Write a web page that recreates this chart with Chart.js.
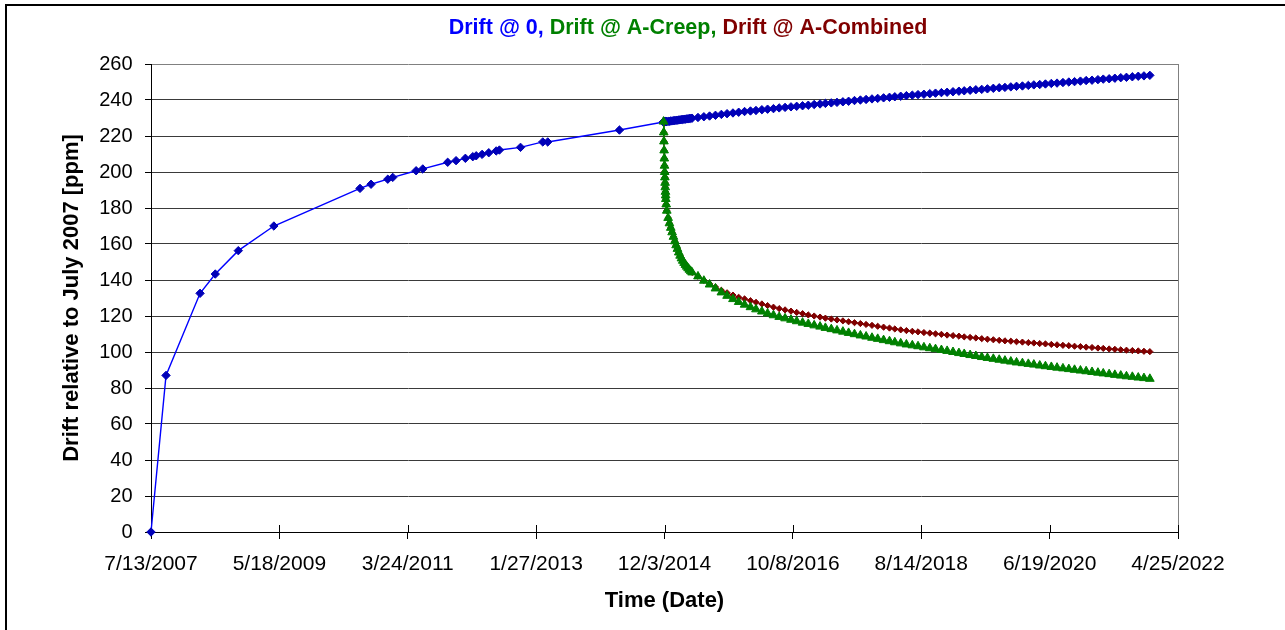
<!DOCTYPE html>
<html><head><meta charset="utf-8">
<script src="https://cdn.jsdelivr.net/npm/chart.js@4.4.0/dist/chart.umd.min.js"></script>
<style>html,body{margin:0;padding:0;background:#fff;overflow:hidden}canvas{display:block}</style>
</head><body>
<canvas id="c" width="1285" height="630"></canvas>
<script>
const titleParts = ['Drift @ 0,', ' Drift @ A-Creep,', ' Drift @ A-Combined'];
const seriesNames = ['Drift @ 0', 'Drift @ A-Creep', 'Drift @ A-Combined'];
const xTickLabels = ['7/13/2007','5/18/2009','3/24/2011','1/27/2013','12/3/2014','10/8/2016','8/14/2018','6/19/2020','4/25/2022'];
const yTickMin = 0, yTickMax = 260, yTickStep = 20;

const blueEarlyDates = ['2007-07-13','2007-09-30','2008-03-27','2008-06-15','2008-10-14','2009-04-19',
  '2010-07-16','2010-09-12','2010-12-09','2011-01-04','2011-05-07','2011-06-11','2011-10-20','2011-12-03',
  '2012-01-21','2012-02-29','2012-03-18','2012-04-18','2012-05-23','2012-07-01','2012-07-18','2012-11-06',
  '2013-03-03','2013-03-29','2014-04-10'];
const blueEarlyValues = [0, 87, 132.6, 143.3, 156.3, 170,
  190.9, 193.2, 196, 197, 200.7, 201.7, 205.4, 206.3,
  207.6, 208.5, 209, 209.8, 210.7, 211.7, 212.2, 213.7,
  216.7, 216.7, 223.3];

const recoveryDates = [
  '2014-11-28','2014-11-29','2014-11-30','2014-12-01','2014-12-02','2014-12-03','2014-12-04','2014-12-05',
  '2014-12-06','2014-12-07','2014-12-08','2014-12-09','2014-12-10','2014-12-12',
  '2014-12-15','2014-12-22','2014-12-29','2015-01-05','2015-01-12','2015-01-19','2015-01-26','2015-02-02',
  '2015-02-09','2015-02-16','2015-02-23','2015-03-02','2015-03-09','2015-03-16','2015-03-23','2015-03-30',
  '2015-04-06','2015-04-13','2015-04-20','2015-04-27',
  '2015-05-28','2015-06-28','2015-07-28','2015-08-28','2015-09-28','2015-10-28','2015-11-28','2015-12-28',
  '2016-01-28','2016-02-28','2016-03-28','2016-04-28','2016-05-28','2016-06-28','2016-07-28','2016-08-28','2016-09-28','2016-10-28','2016-11-28','2016-12-28',
  '2017-01-28','2017-02-28','2017-03-28','2017-04-28','2017-05-28','2017-06-28','2017-07-28','2017-08-28','2017-09-28','2017-10-28','2017-11-28','2017-12-28',
  '2018-01-28','2018-02-28','2018-03-28','2018-04-28','2018-05-28','2018-06-28','2018-07-28','2018-08-28','2018-09-28','2018-10-28','2018-11-28','2018-12-28',
  '2019-01-28','2019-02-28','2019-03-28','2019-04-28','2019-05-28','2019-06-28','2019-07-28','2019-08-28','2019-09-28','2019-10-28','2019-11-28','2019-12-28',
  '2020-01-28','2020-02-28','2020-03-28','2020-04-28','2020-05-28','2020-06-28','2020-07-28','2020-08-28','2020-09-28','2020-10-28','2020-11-28','2020-12-28',
  '2021-01-28','2021-02-28','2021-03-28','2021-04-28','2021-05-28','2021-06-28','2021-07-28','2021-08-28','2021-09-28','2021-10-28','2021-11-28'];

const blueLaterValues = [
  227.8,227.8,227.8,227.8,227.9,227.9,227.9,227.9,227.9,227.9,228.0,228.0,228.0,228.0,
  228.0,228.1,228.2,228.3,228.4,228.5,228.6,228.7,228.8,228.9,229.0,229.1,229.2,229.3,229.4,229.5,229.6,229.7,229.8,229.9,
  230.3,230.7,231.1,231.5,232.0,232.4,232.8,233.2,
  233.6,233.9,234.2,234.6,234.9,235.2,235.6,235.9,236.2,236.5,236.8,237.1,
  237.5,237.8,238.1,238.4,238.7,239.0,239.3,239.7,240.0,240.3,240.6,240.9,
  241.2,241.5,241.8,242.1,242.4,242.7,243.0,243.2,243.5,243.8,244.1,244.3,
  244.6,244.9,245.1,245.4,245.7,245.9,246.2,246.5,246.8,247.0,247.3,247.6,
  247.8,248.1,248.4,248.6,248.9,249.2,249.4,249.7,250.0,250.2,250.5,250.8,
  251.0,251.3,251.6,251.8,252.1,252.4,252.6,252.9,253.2,253.4,253.7];

const creepValues = [
  228,222,217,212,207.5,203.5,200,197,194,191.5,189,187,185,182,
  178.5,174.5,171.5,169,166.5,164,161.5,159.3,157.3,155.3,153.5,152,150.7,149.5,148.4,147.4,146.5,145.7,144.9,144.2,
  142.0,139.6,137.5,135.3,133.1,131.2,129.4,127.8,
  126.3,124.9,123.7,122.5,121.4,120.4,119.5,118.7,117.9,117.1,116.3,115.6,
  114.8,114.1,113.4,112.7,112.0,111.3,110.6,109.9,109.2,108.6,107.9,107.3,
  106.6,106.0,105.4,104.8,104.2,103.7,103.2,102.6,102.1,101.6,101.1,100.6,
  100.0,99.4,98.9,98.3,97.8,97.2,96.7,96.2,95.7,95.2,94.7,94.2,
  93.8,93.4,93.0,92.5,92.1,91.7,91.3,90.9,90.5,90.1,89.7,89.3,
  88.9,88.5,88.1,87.7,87.3,86.9,86.5,86.2,85.8,85.5,85.1];

const combinedValues = [
  228,222,217,212,207.5,203.5,200,197,194,191.5,189,187,185,182,
  178.5,174.5,171.5,169,166.5,164,161.5,159.3,157.3,155.3,153.5,152,150.7,149.5,148.4,147.4,146.5,145.7,144.9,144.2,
  142.1,139.8,137.9,136.1,134.3,132.9,131.6,130.4,
  129.5,128.5,127.6,126.7,125.8,124.9,124.1,123.4,122.7,122.0,121.3,120.6,
  120.0,119.4,118.8,118.3,117.8,117.3,116.8,116.3,115.8,115.3,114.8,114.3,
  113.8,113.3,112.8,112.3,111.9,111.5,111.2,110.8,110.5,110.1,109.8,109.4,
  109.1,108.8,108.4,108.1,107.8,107.4,107.1,106.8,106.5,106.2,106.0,105.7,
  105.5,105.2,105.0,104.7,104.5,104.2,104.0,103.7,103.5,103.2,103.0,102.7,
  102.5,102.2,102.0,101.7,101.5,101.2,101.0,100.8,100.6,100.4,100.2];

const colBlueLine = '#0000FF', colBlueMark = '#0000B8', colGreen = '#008000', colRed = '#800000';
const titleColors = [colBlueLine, colGreen, colRed];

function isoDay(s){const p=s.split('-').map(Number);return Date.UTC(p[0],p[1]-1,p[2])/864e5;}
function mdyDay(s){const p=s.split('/').map(Number);return Date.UTC(p[2],p[0]-1,p[1])/864e5;}
const xTickValues = xTickLabels.map(mdyDay);
const pts = (dates, vals) => dates.map((d,i)=>({x: isoDay(d), y: vals[i]}));

const blueData = pts(blueEarlyDates.concat(recoveryDates), blueEarlyValues.concat(blueLaterValues));
const creepData = pts(recoveryDates, creepValues);
const combinedData = pts(recoveryDates, combinedValues);

const FONT = '"Liberation Sans", Arial, Helvetica, sans-serif';
Chart.defaults.font.family = FONT;
Chart.defaults.color = '#000';

const framePlugin = {
  id: 'frame',
  beforeDraw(ch){
    const c = ch.ctx; c.save();
    c.fillStyle = '#fff'; c.fillRect(0,0,ch.width,ch.height);
    c.fillStyle = '#000';
    c.fillRect(5,4,ch.width,2);
    c.fillRect(5,4,2,ch.height);
    c.restore();
  },
  beforeDatasetsDraw(ch){
    const c = ch.ctx, a = ch.chartArea, x = ch.scales.x;
    c.save();
    c.lineWidth = 1;
    c.strokeStyle = '#808080';
    c.beginPath();
    const rx = Math.round(a.right) + 0.5;
    c.moveTo(rx, a.top); c.lineTo(rx, a.bottom); c.stroke();
    c.strokeStyle = '#000';
    c.beginPath();
    x.ticks.forEach(t => {
      const px = Math.round(x.getPixelForValue(t.value)) + 0.5;
      c.moveTo(px, a.bottom); c.lineTo(px, a.bottom - 7);
    });
    c.stroke();
    c.restore();
  },
  afterDraw(ch){
    const c = ch.ctx; c.save();
    c.font = 'bold 21.5px ' + FONT;
    c.textBaseline = 'alphabetic';
    const w = titleParts.map(t => c.measureText(t).width);
    const total = w.reduce((s,v)=>s+v,0);
    let x = 688 - total/2;
    titleParts.forEach((t,i)=>{ c.fillStyle = titleColors[i]; c.fillText(t, x, 34); x += w[i]; });
    c.restore();
  }
};

new Chart(document.getElementById('c'), {
  type: 'line',
  data: {
    datasets: [
      { label: seriesNames[1], data: creepData, order: 0, borderColor: colGreen, backgroundColor: colGreen,
        borderWidth: 1, pointStyle: 'triangle', pointRadius: 5, pointBorderWidth: 1,
        pointBackgroundColor: colGreen, pointBorderColor: colGreen, clip: false, tension: 0 },
      { label: seriesNames[2], data: combinedData, order: 1, borderColor: colRed, backgroundColor: colRed,
        borderWidth: 1, pointStyle: 'rectRot', pointRadius: 3.1, pointBorderWidth: 1,
        pointBackgroundColor: colRed, pointBorderColor: colRed, clip: false, tension: 0 },
      { label: seriesNames[0], data: blueData, order: 2, borderColor: colBlueLine, backgroundColor: colBlueMark,
        borderWidth: 1.4, pointStyle: 'rectRot', pointRadius: 4.2, pointBorderWidth: 1,
        pointBackgroundColor: colBlueMark, pointBorderColor: colBlueMark, clip: false, tension: 0 }
    ]
  },
  options: {
    responsive: false, animation: false, devicePixelRatio: 1, events: [],
    layout: { padding: { left: 0, right: 107, top: 64, bottom: 0 } },
    plugins: { legend: { display: false }, tooltip: { enabled: false }, title: { display: false } },
    scales: {
      x: {
        type: 'linear', min: xTickValues[0], max: xTickValues[xTickValues.length-1],
        afterBuildTicks: s => { s.ticks = xTickValues.map(v => ({ value: v })); },
        afterFit: s => { s.height = 98; },
        ticks: { callback: (v,i) => xTickLabels[i], font: { size: 21 }, color: '#000', padding: 12.5,
                 maxRotation: 0, minRotation: 0, autoSkip: false },
        grid: { drawOnChartArea: false, tickLength: 7, tickColor: '#000', tickWidth: 1 },
        border: { display: true, color: '#000', width: 1 },
        title: { display: true, text: 'Time (Date)', font: { size: 22, weight: 'bold' }, color: '#000',
                 padding: { top: 0, bottom: 15.4 } }
      },
      y: {
        min: yTickMin, max: yTickMax,
        afterFit: s => { s.width = 151; },
        ticks: { stepSize: yTickStep, font: { size: 20 }, color: '#000', padding: 12.5 },
        grid: { color: c => (c.tick && c.tick.value === yTickMax) ? '#808080' : '#3a3a3a',
                tickColor: '#000', tickLength: 6, lineWidth: 1 },
        border: { display: true, color: '#000', width: 1 },
        title: { display: true, text: 'Drift relative to July 2007 [ppm]', font: { size: 22, weight: 'bold' },
                 color: '#000', padding: { top: 58.8, bottom: 0 } }
      }
    }
  },
  plugins: [framePlugin]
});
</script>
</body></html>
